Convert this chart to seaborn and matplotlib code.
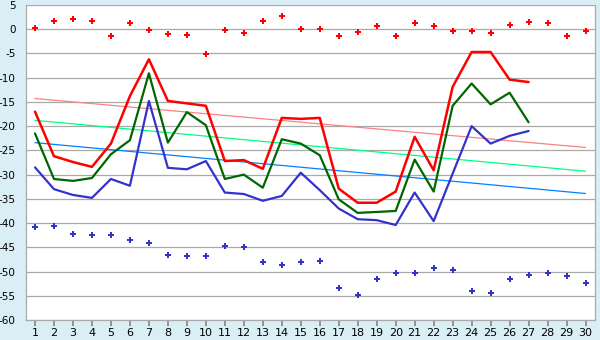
import numpy as np
import pandas as pd
import matplotlib
matplotlib.use("Agg")
import matplotlib.pyplot as plt
import seaborn as sns

days = list(range(1, 31))
line_days = list(range(1, 28))

red_line = [-17.0, -26.2, -27.4, -28.4, -23.6, -13.8, -6.2, -14.8, -15.3, -15.8,
            -27.2, -27.0, -28.8, -18.3, -18.5, -18.3, -32.9, -35.8, -35.8, -33.5,
            -22.2, -29.1, -11.9, -4.7, -4.7, -10.4, -10.9]
green_line = [-21.5, -30.9, -31.3, -30.7, -25.8, -22.9, -9.1, -23.4, -17.1, -19.8,
              -30.9, -30.0, -32.7, -22.7, -23.6, -26.0, -35.1, -37.9, -37.7, -37.5,
              -26.9, -33.5, -15.8, -11.2, -15.5, -13.1, -19.2]
blue_line = [-28.5, -33.0, -34.2, -34.8, -30.9, -32.3, -14.8, -28.6, -28.9, -27.2,
             -33.7, -34.0, -35.4, -34.4, -29.6, -33.2, -37.0, -39.2, -39.4, -40.4,
             -33.7, -39.6, -29.8, -20.0, -23.6, -22.0, -21.0]

red_points = [0.2, 1.8, 2.2, 1.8, -1.3, 1.2, -0.1, -0.9, -1.1, -5.2,
              -0.1, -0.7, 1.6, 2.8, 0.1, 0.1, -1.3, -0.5, 0.6, -1.3,
              1.2, 0.6, -0.3, -0.3, -0.7, 0.8, 1.4, 1.2, -1.5, -0.3]
blue_points = [-40.9, -40.5, -42.3, -42.5, -42.5, -43.4, -44.2, -46.5, -46.7, -46.7,
               -44.8, -45.0, -48.1, -48.7, -48.1, -47.9, -53.3, -54.9, -51.6, -50.2,
               -50.4, -49.3, -49.7, -54.1, -54.5, -51.6, -50.8, -50.4, -51.0, -52.4]

trend_days = [1, 30]
red_trend = [-14.3, -24.4]
green_trend = [-18.8, -29.3]
blue_trend = [-23.4, -33.9]

y_ticks = list(range(5, -61, -5))

bg = "#daeef5"
sns.set_theme(style="white")
plt.rcParams['font.family'] = ['DejaVu Sans']

fig = plt.figure(figsize=(6, 3.4), dpi=100, facecolor=bg)
ax = fig.add_axes([0.0425, 0.0588, 0.9492, 0.9265])
ax.set_facecolor("white")

df_lines = pd.DataFrame({"day": line_days, "red": red_line, "green": green_line, "blue": blue_line})
df_trend = pd.DataFrame({"day": trend_days, "red": red_trend, "green": green_trend, "blue": blue_trend})
df_pts = pd.DataFrame({"day": days, "red": red_points, "blue": blue_points})

sns.lineplot(data=df_trend, x="day", y="red", ax=ax, color="#ff8080", lw=0.9)
sns.lineplot(data=df_trend, x="day", y="green", ax=ax, color="#00ff80", lw=0.9)
sns.lineplot(data=df_trend, x="day", y="blue", ax=ax, color="#0080ff", lw=0.9)

sns.lineplot(data=df_lines, x="day", y="blue", ax=ax, color="#3333cc", lw=1.6)
sns.lineplot(data=df_lines, x="day", y="green", ax=ax, color="#006600", lw=1.6)
sns.lineplot(data=df_lines, x="day", y="red", ax=ax, color="#ff0000", lw=1.8)

sns.scatterplot(data=df_pts, x="day", y="red", ax=ax, color="#ff0000", marker="P", s=18, linewidth=0)
sns.scatterplot(data=df_pts, x="day", y="blue", ax=ax, color="#3333cc", marker="P", s=18, linewidth=0)

ax.set_xlim(0.5, 30.5)
ax.set_ylim(-60, 5)
ax.set_xticks(days)
ax.set_xticklabels([str(d) for d in days], fontsize=8, color="black")
ax.set_yticks(y_ticks)
ax.set_yticklabels([str(v) for v in y_ticks], fontsize=7.5, color="black")
ax.set_xlabel("")
ax.set_ylabel("")
ax.yaxis.grid(True, color="#aaaaaa", lw=0.9)
ax.xaxis.grid(False)
ax.tick_params(axis="x", bottom=True, length=4, color="#888888", pad=2)
ax.tick_params(axis="y", left=False, pad=1)
for side in ["left", "right", "bottom", "top"]:
    ax.spines[side].set_color("#aaaaaa")
    ax.spines[side].set_linewidth(0.9)
ax.spines["top"].set_visible(False)

fig.savefig("out.png", dpi=100, facecolor=bg)
